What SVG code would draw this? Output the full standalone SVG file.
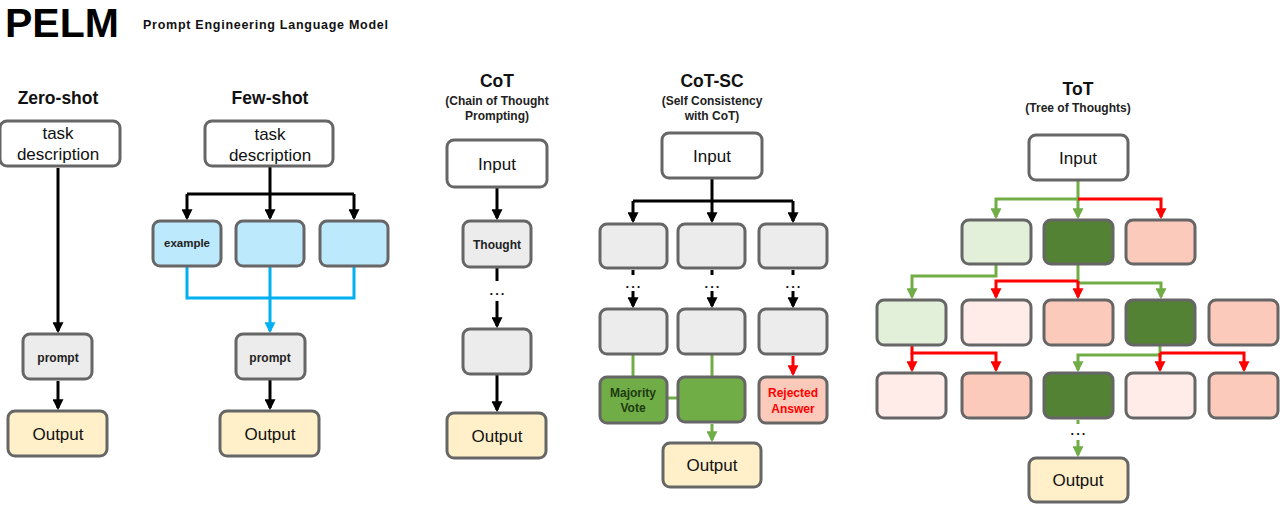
<svg xmlns="http://www.w3.org/2000/svg" width="1282" height="505" viewBox="0 0 1282 505">
<defs>
<marker id="aK" markerUnits="userSpaceOnUse" markerWidth="11" markerHeight="11" viewBox="0 0 10 10" refX="8" refY="5" orient="auto"><path d="M0,0 L10,5 L0,10 z" fill="#000"/></marker>
<marker id="aB" markerUnits="userSpaceOnUse" markerWidth="11" markerHeight="11" viewBox="0 0 10 10" refX="8" refY="5" orient="auto"><path d="M0,0 L10,5 L0,10 z" fill="#00b0f0"/></marker>
<marker id="aG" markerUnits="userSpaceOnUse" markerWidth="11" markerHeight="11" viewBox="0 0 10 10" refX="8" refY="5" orient="auto"><path d="M0,0 L10,5 L0,10 z" fill="#70ad47"/></marker>
<marker id="aR" markerUnits="userSpaceOnUse" markerWidth="11" markerHeight="11" viewBox="0 0 10 10" refX="8" refY="5" orient="auto"><path d="M0,0 L10,5 L0,10 z" fill="#ff0000"/></marker>
</defs>
<style>
text{font-family:"Liberation Sans",Arial,sans-serif;fill:#111;text-anchor:middle}
.hd{font-size:17.5px;font-weight:bold}
.sub{font-size:12px;font-weight:bold;fill:#222}
.big{font-size:17px}
.sm{font-size:12px;font-weight:bold;fill:#222}
.box{stroke:#666;stroke-width:3}
.w{fill:#fff}.g{fill:#ececec}.y{fill:#fff0c9}.b{fill:#bde9fc}
.lg{fill:#e2efd9}.dg{fill:#548235}.pk{fill:#fbcaba}.vp{fill:#ffebe8}.mg{fill:#70ad47}
.c{fill:none;stroke-width:3}
.k{stroke:#000}.bl{stroke:#00b0f0}.gr{stroke:#70ad47}.rd{stroke:#ff0000}
.dots{font-size:13px;font-weight:bold;fill:#111;letter-spacing:2px}
</style>
<rect width="1282" height="505" fill="#fff"/>
<g id="title">
<text x="5" y="37" style="font-size:41px;font-weight:bold;text-anchor:start;fill:#000">PELM</text>
<text x="143" y="29" style="font-size:12.5px;font-weight:bold;text-anchor:start;fill:#111" textLength="245">Prompt Engineering Language Model</text>
</g>
<g id="headers">
<text class="hd" x="58" y="104">Zero-shot</text>
<text class="hd" x="270" y="104">Few-shot</text>
<text class="hd" x="497" y="87">CoT</text>
<text class="sub" x="497" y="105">(Chain of Thought</text>
<text class="sub" x="497" y="120">Prompting)</text>
<text class="hd" x="712" y="87">CoT-SC</text>
<text class="sub" x="712" y="105">(Self Consistency</text>
<text class="sub" x="712" y="120">with CoT)</text>
<text class="hd" x="1078" y="95">ToT</text>
<text class="sub" x="1078" y="112">(Tree of Thoughts)</text>
</g>
<g id="connectors">
<path class="c k" d="M58,168 V331" marker-end="url(#aK)"/>
<path class="c k" d="M58,381 V408" marker-end="url(#aK)"/>
<path class="c k" d="M270,167 V194 M187,194 H354"/>
<path class="c k" d="M187,194 V218" marker-end="url(#aK)"/>
<path class="c k" d="M270,194 V218" marker-end="url(#aK)"/>
<path class="c k" d="M354,194 V218" marker-end="url(#aK)"/>
<path class="c bl" d="M187,267 V298 H354 V267 M270,267 V298"/>
<path class="c bl" d="M270,298 V331" marker-end="url(#aB)"/>
<path class="c k" d="M270,380 V408" marker-end="url(#aK)"/>
<path class="c k" d="M497,188 V218" marker-end="url(#aK)"/>
<path class="c k" d="M497,268 V281"/>
<path class="c k" d="M497,301 V326" marker-end="url(#aK)"/>
<path class="c k" d="M497,375 V410" marker-end="url(#aK)"/>
<path class="c k" d="M712,179 V201 M633,201 H793"/>
<path class="c k" d="M633,201 V221" marker-end="url(#aK)"/>
<path class="c k" d="M712,201 V221" marker-end="url(#aK)"/>
<path class="c k" d="M793,201 V221" marker-end="url(#aK)"/>
<path class="c k" d="M633,270 V275 M712,270 V275 M793,270 V275"/>
<path class="c k" d="M633,291 V306" marker-end="url(#aK)"/>
<path class="c k" d="M712,291 V306" marker-end="url(#aK)"/>
<path class="c k" d="M793,291 V306" marker-end="url(#aK)"/>
<path class="c gr" d="M633,355 V377 M712,355 V377 M667,398 H677"/>
<path class="c rd" d="M793,356 V374" marker-end="url(#aR)"/>
<path class="c gr" d="M712,424 V440" marker-end="url(#aG)"/>
<path class="c gr" d="M1078,181 V199 H996 V217" marker-end="url(#aG)"/>
<path class="c gr" d="M1078,199 V217" marker-end="url(#aG)"/>
<path class="c rd" d="M1078,199 H1161 V217" marker-end="url(#aR)"/>
<path class="c gr" d="M996,265 V276 H912 V297" marker-end="url(#aG)"/>
<path class="c gr" d="M1078,265 V283 H1161 V297" marker-end="url(#aG)"/>
<path class="c rd" d="M1078,281 H996 V297" marker-end="url(#aR)"/>
<path class="c rd" d="M1078,281 V297" marker-end="url(#aR)"/>
<path class="c rd" d="M912,346 V353 H996 V370" marker-end="url(#aR)"/>
<path class="c rd" d="M912,353 V370" marker-end="url(#aR)"/>
<path class="c gr" d="M1160,346 V355 H1078 V370" marker-end="url(#aG)"/>
<path class="c rd" d="M1160,353 H1244 V370" marker-end="url(#aR)"/>
<path class="c rd" d="M1160,353 V370" marker-end="url(#aR)"/>
<path class="c gr" d="M1078,420 V424"/>
<path class="c gr" d="M1078,440 V455" marker-end="url(#aG)"/>
</g>
<g id="dots">
<text class="dots" x="498" y="295">...</text>
<text class="dots" x="634" y="288">...</text>
<text class="dots" x="713" y="288">...</text>
<text class="dots" x="794" y="288">...</text>
<text class="dots" x="1079" y="435">...</text>
</g>
<g id="zs-task"><rect class="box w" x="0" y="121" width="120" height="45" rx="7"/><text class="big" x="58" y="139">task</text><text class="big" x="58" y="160">description</text></g>
<g id="zs-prompt"><rect class="box g" x="23" y="334" width="69" height="45" rx="7"/><text class="sm" x="58" y="362">prompt</text></g>
<g id="zs-output"><rect class="box y" x="8" y="411" width="99" height="45" rx="7"/><text class="big" x="58" y="440">Output</text></g>
<g id="fs-task"><rect class="box w" x="205" y="121" width="128" height="45" rx="7"/><text class="big" x="270" y="140">task</text><text class="big" x="270" y="161">description</text></g>
<g id="fs-ex1"><rect class="box b" x="153" y="221" width="68" height="45" rx="7"/><text class="sm" x="187" y="247" style="font-size:11.5px">example</text></g>
<g id="fs-ex2"><rect class="box b" x="236" y="221" width="68" height="45" rx="7"/></g>
<g id="fs-ex3"><rect class="box b" x="320" y="221" width="68" height="45" rx="7"/></g>
<g id="fs-prompt"><rect class="box g" x="236" y="334" width="69" height="45" rx="7"/><text class="sm" x="270" y="362">prompt</text></g>
<g id="fs-output"><rect class="box y" x="220" y="411" width="99" height="45" rx="7"/><text class="big" x="270" y="440">Output</text></g>
<g id="cot-input"><rect class="box w" x="447" y="140" width="100" height="47" rx="7"/><text class="big" x="497" y="170">Input</text></g>
<g id="cot-thought"><rect class="box g" x="463" y="221" width="68" height="46" rx="7"/><text class="sm" x="497" y="249">Thought</text></g>
<g id="cot-t2"><rect class="box g" x="463" y="329" width="68" height="45" rx="7"/></g>
<g id="cot-output"><rect class="box y" x="447" y="413" width="99" height="45" rx="7"/><text class="big" x="497" y="442">Output</text></g>
<g id="sc-input"><rect class="box w" x="662" y="133" width="100" height="45" rx="7"/><text class="big" x="712" y="162">Input</text></g>
<g id="sc-a1"><rect class="box g" x="600" y="224" width="67" height="44" rx="7"/></g>
<g id="sc-b1"><rect class="box g" x="678" y="224" width="67" height="44" rx="7"/></g>
<g id="sc-c1"><rect class="box g" x="759" y="224" width="68" height="44" rx="7"/></g>
<g id="sc-a2"><rect class="box g" x="600" y="309" width="67" height="45" rx="7"/></g>
<g id="sc-b2"><rect class="box g" x="678" y="309" width="67" height="45" rx="7"/></g>
<g id="sc-c2"><rect class="box g" x="759" y="309" width="68" height="45" rx="7"/></g>
<g id="sc-vote"><rect class="box mg" x="600" y="377" width="67" height="46" rx="7"/><text class="sm" x="633" y="397" style="fill:#1e3a10">Majority</text><text class="sm" x="633" y="412" style="fill:#1e3a10">Vote</text></g>
<g id="sc-green"><rect class="box mg" x="678" y="377" width="67" height="45" rx="7"/></g>
<g id="sc-rejected"><rect class="box pk" x="759" y="377" width="68" height="46" rx="7"/><text class="sm" x="793" y="397" style="fill:#ff0000">Rejected</text><text class="sm" x="793" y="413" style="fill:#ff0000">Answer</text></g>
<g id="sc-output"><rect class="box y" x="663" y="443" width="98" height="44" rx="7"/><text class="big" x="712" y="471">Output</text></g>
<g id="tot-input"><rect class="box w" x="1029" y="135" width="99" height="45" rx="7"/><text class="big" x="1078" y="164">Input</text></g>
<g id="tot-r1a"><rect class="box lg" x="962" y="220" width="69" height="44" rx="7"/></g>
<g id="tot-r1b"><rect class="box dg" x="1044" y="220" width="69" height="44" rx="7"/></g>
<g id="tot-r1c"><rect class="box pk" x="1126" y="220" width="69" height="44" rx="7"/></g>
<g id="tot-r2a"><rect class="box lg" x="877" y="300" width="69" height="45" rx="7"/></g>
<g id="tot-r2b"><rect class="box vp" x="962" y="300" width="69" height="45" rx="7"/></g>
<g id="tot-r2c"><rect class="box pk" x="1044" y="300" width="69" height="45" rx="7"/></g>
<g id="tot-r2d"><rect class="box dg" x="1126" y="300" width="69" height="45" rx="7"/></g>
<g id="tot-r2e"><rect class="box pk" x="1209" y="300" width="69" height="45" rx="7"/></g>
<g id="tot-r3a"><rect class="box vp" x="877" y="373" width="69" height="45" rx="7"/></g>
<g id="tot-r3b"><rect class="box pk" x="962" y="373" width="69" height="45" rx="7"/></g>
<g id="tot-r3c"><rect class="box dg" x="1044" y="373" width="69" height="45" rx="7"/></g>
<g id="tot-r3d"><rect class="box vp" x="1126" y="373" width="69" height="45" rx="7"/></g>
<g id="tot-r3e"><rect class="box pk" x="1209" y="373" width="69" height="45" rx="7"/></g>
<g id="tot-output"><rect class="box y" x="1029" y="458" width="99" height="44" rx="7"/><text class="big" x="1078" y="486">Output</text></g>
</svg>
